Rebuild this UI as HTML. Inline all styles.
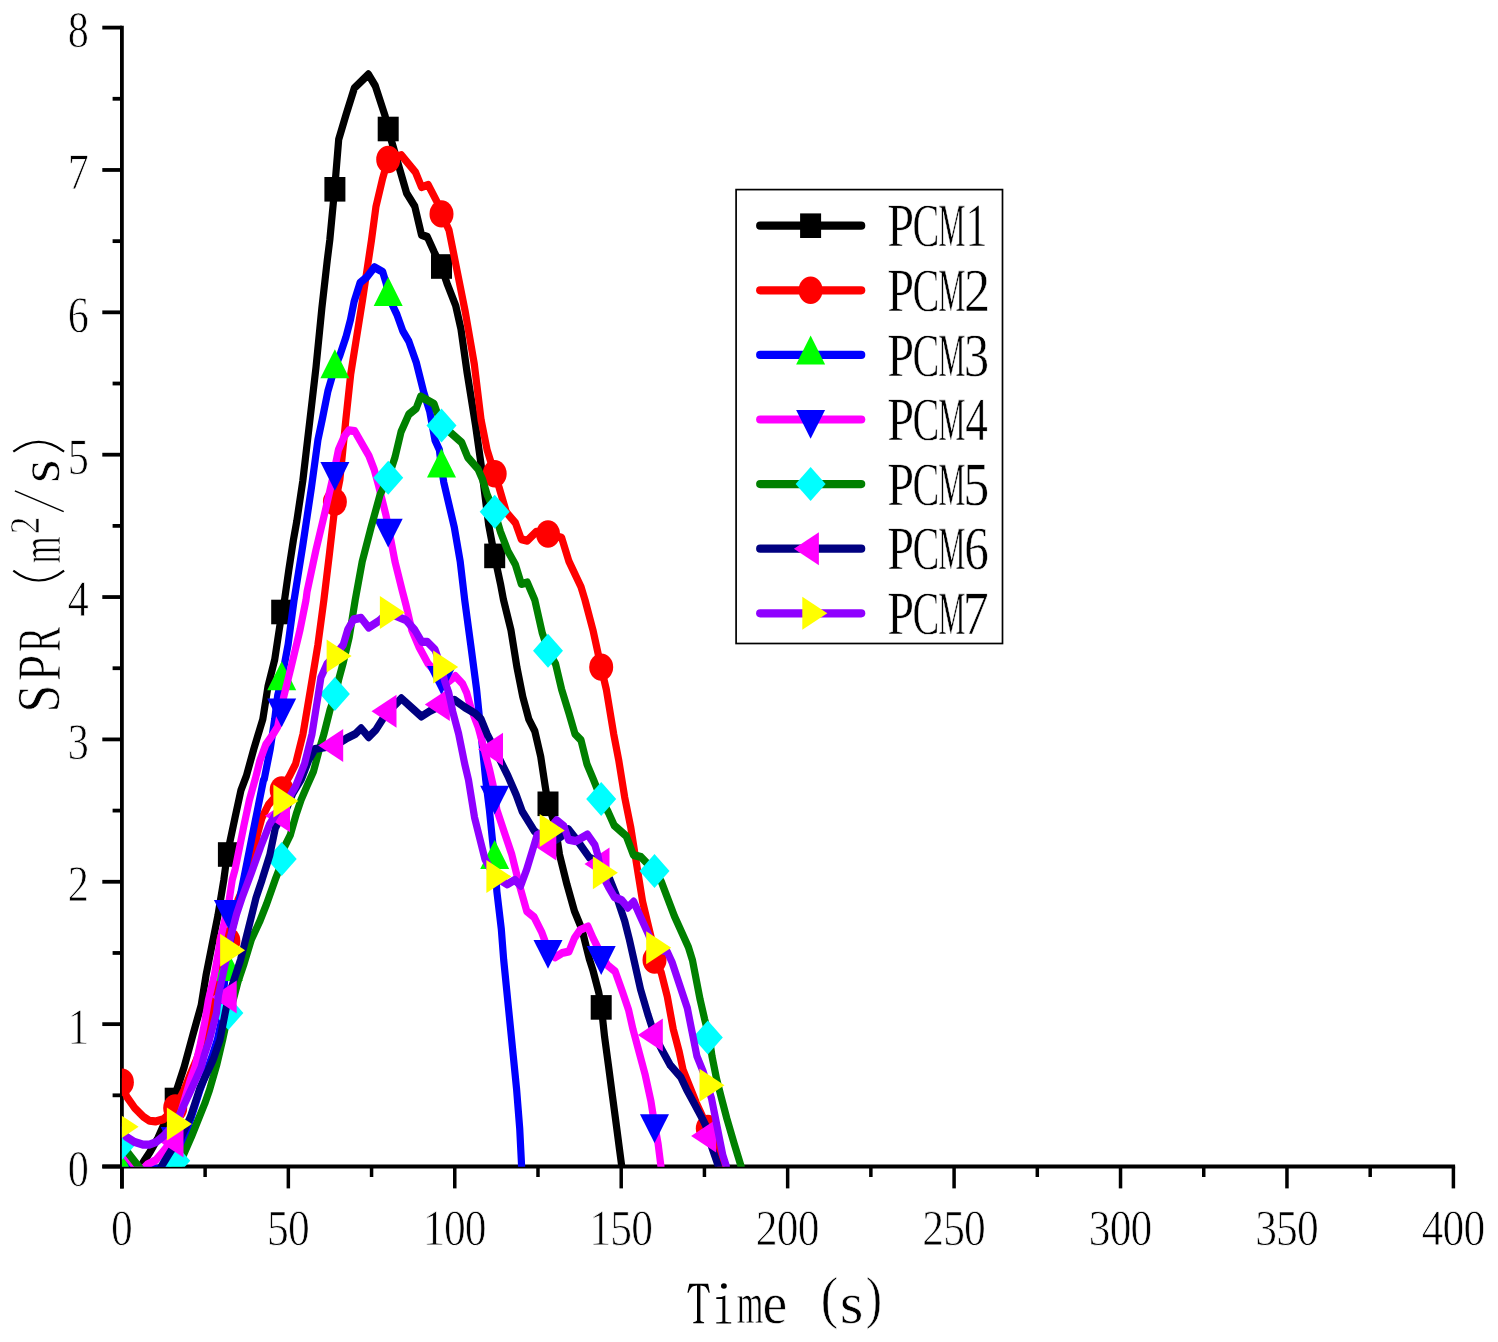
<!DOCTYPE html>
<html><head><meta charset="utf-8"><title>SPR chart</title><style>
html,body{margin:0;padding:0;background:#fff;overflow:hidden;}
svg{display:block;}
text{font-family:"Liberation Serif",serif;fill:#000;text-rendering:geometricPrecision;}
</style></head><body>
<svg width="1498" height="1342" viewBox="0 0 1498 1342">
<rect width="1498" height="1342" fill="#fff"/>
<defs><filter id="nf" x="0" y="0" width="1498" height="1342" filterUnits="userSpaceOnUse"><feOffset dx="0" dy="0"/></filter><clipPath id="pc"><rect x="121.9" y="0" width="1340" height="1166.7"/></clipPath></defs>
<line x1="121.9" y1="25.70" x2="121.9" y2="1188.4" stroke="#000" stroke-width="3.8"/>
<line x1="102.3" y1="1166.5" x2="1455.10" y2="1166.5" stroke="#000" stroke-width="3.8"/>
<line x1="102.3" y1="1166.50" x2="121.9" y2="1166.50" stroke="#000" stroke-width="3.8"/>
<line x1="102.3" y1="1024.14" x2="121.9" y2="1024.14" stroke="#000" stroke-width="3.8"/>
<line x1="102.3" y1="881.77" x2="121.9" y2="881.77" stroke="#000" stroke-width="3.8"/>
<line x1="102.3" y1="739.41" x2="121.9" y2="739.41" stroke="#000" stroke-width="3.8"/>
<line x1="102.3" y1="597.05" x2="121.9" y2="597.05" stroke="#000" stroke-width="3.8"/>
<line x1="102.3" y1="454.69" x2="121.9" y2="454.69" stroke="#000" stroke-width="3.8"/>
<line x1="102.3" y1="312.32" x2="121.9" y2="312.32" stroke="#000" stroke-width="3.8"/>
<line x1="102.3" y1="169.96" x2="121.9" y2="169.96" stroke="#000" stroke-width="3.8"/>
<line x1="102.3" y1="27.60" x2="121.9" y2="27.60" stroke="#000" stroke-width="3.8"/>
<line x1="112.6" y1="1095.32" x2="121.9" y2="1095.32" stroke="#000" stroke-width="3.8"/>
<line x1="112.6" y1="952.96" x2="121.9" y2="952.96" stroke="#000" stroke-width="3.8"/>
<line x1="112.6" y1="810.59" x2="121.9" y2="810.59" stroke="#000" stroke-width="3.8"/>
<line x1="112.6" y1="668.23" x2="121.9" y2="668.23" stroke="#000" stroke-width="3.8"/>
<line x1="112.6" y1="525.87" x2="121.9" y2="525.87" stroke="#000" stroke-width="3.8"/>
<line x1="112.6" y1="383.51" x2="121.9" y2="383.51" stroke="#000" stroke-width="3.8"/>
<line x1="112.6" y1="241.14" x2="121.9" y2="241.14" stroke="#000" stroke-width="3.8"/>
<line x1="112.6" y1="98.78" x2="121.9" y2="98.78" stroke="#000" stroke-width="3.8"/>
<line x1="121.90" y1="1166.5" x2="121.90" y2="1188.4" stroke="#000" stroke-width="3.5"/>
<line x1="288.34" y1="1166.5" x2="288.34" y2="1188.4" stroke="#000" stroke-width="3.5"/>
<line x1="454.77" y1="1166.5" x2="454.77" y2="1188.4" stroke="#000" stroke-width="3.5"/>
<line x1="621.21" y1="1166.5" x2="621.21" y2="1188.4" stroke="#000" stroke-width="3.5"/>
<line x1="787.65" y1="1166.5" x2="787.65" y2="1188.4" stroke="#000" stroke-width="3.5"/>
<line x1="954.09" y1="1166.5" x2="954.09" y2="1188.4" stroke="#000" stroke-width="3.5"/>
<line x1="1120.53" y1="1166.5" x2="1120.53" y2="1188.4" stroke="#000" stroke-width="3.5"/>
<line x1="1286.96" y1="1166.5" x2="1286.96" y2="1188.4" stroke="#000" stroke-width="3.5"/>
<line x1="1453.40" y1="1166.5" x2="1453.40" y2="1188.4" stroke="#000" stroke-width="3.5"/>
<line x1="205.12" y1="1166.5" x2="205.12" y2="1177" stroke="#000" stroke-width="3.5"/>
<line x1="371.56" y1="1166.5" x2="371.56" y2="1177" stroke="#000" stroke-width="3.5"/>
<line x1="537.99" y1="1166.5" x2="537.99" y2="1177" stroke="#000" stroke-width="3.5"/>
<line x1="704.43" y1="1166.5" x2="704.43" y2="1177" stroke="#000" stroke-width="3.5"/>
<line x1="870.87" y1="1166.5" x2="870.87" y2="1177" stroke="#000" stroke-width="3.5"/>
<line x1="1037.31" y1="1166.5" x2="1037.31" y2="1177" stroke="#000" stroke-width="3.5"/>
<line x1="1203.74" y1="1166.5" x2="1203.74" y2="1177" stroke="#000" stroke-width="3.5"/>
<line x1="1370.18" y1="1166.5" x2="1370.18" y2="1177" stroke="#000" stroke-width="3.5"/>
<g clip-path="url(#pc)">
<g transform="scale(1,1.14)"><polyline points="121.9,1028.1 138.0,1027.2 143.4,1019.3 150.0,1010.5 158.0,998.2 165.0,984.2 170.0,973.7 175.0,964.9 177.0,955.3 184.1,936.2 193.0,907.5 201.2,881.7 206.0,855.6 211.9,829.5 217.9,803.3 223.8,771.9 227.2,749.6 235.1,716.9 241.0,693.0 246.4,680.6 253.8,657.0 262.8,630.9 268.0,602.1 274.7,578.6 279.2,552.5 282.0,536.8 284.7,525.3 288.8,500.0 293.4,473.7 296.8,457.1 302.8,421.8 307.5,386.4 312.2,351.1 316.0,322.2 321.9,269.9 327.3,228.1 329.8,210.5 334.6,166.1 338.7,122.3 346.2,100.1 354.4,77.2 368.4,65.2 375.3,75.3 385.0,101.4 388.0,113.2 395.4,135.4 406.6,169.4 414.8,181.1 421.5,206.0 427.4,207.9 434.1,221.0 441.3,233.8 447.5,249.7 455.7,268.1 461.0,288.9 467.0,326.3 475.5,372.8 481.1,407.6 488.6,459.9 494.5,487.6 500.5,512.2 503.5,526.3 510.9,552.5 516.9,585.2 522.8,611.3 528.8,630.9 534.8,641.3 540.7,663.6 545.2,689.7 548.0,705.1 555.0,723.4 559.5,749.6 566.9,775.7 574.4,799.2 581.8,814.9 589.3,841.1 592.8,850.7 598.7,870.4 601.4,883.7 604.6,909.6 608.6,935.7 612.5,961.8 616.3,986.8 619.5,1008.3 621.7,1022.8 622.5,1028.1" fill="none" stroke="#000000" stroke-width="7.2" stroke-linejoin="round" stroke-linecap="round"/></g>
<rect x="164.7" y="1087.7" width="21" height="24.6" fill="#000000"/>
<rect x="217.9" y="842.2" width="21" height="24.6" fill="#000000"/>
<rect x="271.2" y="599.7" width="21" height="24.6" fill="#000000"/>
<rect x="324.4" y="177.0" width="21" height="24.6" fill="#000000"/>
<rect x="377.7" y="116.7" width="21" height="24.6" fill="#000000"/>
<rect x="431.0" y="254.2" width="21" height="24.6" fill="#000000"/>
<rect x="484.2" y="543.6" width="21" height="24.6" fill="#000000"/>
<rect x="537.5" y="791.5" width="21" height="24.6" fill="#000000"/>
<rect x="590.7" y="995.1" width="21" height="24.6" fill="#000000"/>
<g transform="scale(1,1.14)"><polyline points="121.8,949.3 126.7,962.0 134.7,971.9 143.4,979.6 149.4,983.1 155.4,983.7 163.4,981.9 175.0,971.9 184.1,956.1 190.0,942.8 196.3,929.8 201.8,916.7 206.5,900.9 211.4,887.9 216.6,861.8 222.0,843.9 228.4,825.4 233.0,807.0 237.9,789.5 249.5,766.6 253.1,750.9 257.6,731.3 262.0,717.2 268.3,706.1 281.3,693.0 289.6,680.6 295.6,670.1 303.0,643.9 310.5,604.7 317.9,565.5 323.9,526.3 329.4,486.1 335.4,440.4 339.9,420.7 345.8,368.4 350.7,328.2 362.6,262.8 371.5,210.5 376.0,181.1 382.7,156.3 388.0,139.9 401.3,136.1 415.5,151.1 421.5,164.1 428.2,162.2 437.1,177.2 441.6,187.6 449.0,201.8 456.4,234.5 465.3,273.7 474.3,319.4 481.1,368.4 487.1,394.6 494.5,415.5 499.0,427.3 506.4,449.5 515.4,458.6 521.3,473.0 527.3,474.3 536.2,466.5 547.9,468.4 561.6,471.7 569.0,492.6 581.0,514.8 585.0,526.3 592.9,552.5 601.1,585.2 606.3,604.7 613.7,643.9 618.7,666.7 624.7,699.4 630.7,725.5 636.6,758.2 642.6,790.9 651.5,823.5 654.3,842.1 661.3,853.3 667.3,874.2 673.3,903.0 679.2,922.6 683.1,938.6 689.9,953.5 696.7,968.4 708.0,989.8 717.1,1008.3 719.4,1018.2 721.0,1022.8" fill="none" stroke="#FF0000" stroke-width="7.2" stroke-linejoin="round" stroke-linecap="round"/></g>
<ellipse cx="121.9" cy="1082.2" rx="12" ry="13.7" fill="#FF0000"/>
<ellipse cx="175.2" cy="1108.0" rx="12" ry="13.7" fill="#FF0000"/>
<ellipse cx="228.4" cy="941.0" rx="12" ry="13.7" fill="#FF0000"/>
<ellipse cx="281.7" cy="790.0" rx="12" ry="13.7" fill="#FF0000"/>
<ellipse cx="334.9" cy="502.0" rx="12" ry="13.7" fill="#FF0000"/>
<ellipse cx="388.2" cy="159.5" rx="12" ry="13.7" fill="#FF0000"/>
<ellipse cx="441.5" cy="213.9" rx="12" ry="13.7" fill="#FF0000"/>
<ellipse cx="494.7" cy="473.7" rx="12" ry="13.7" fill="#FF0000"/>
<ellipse cx="548.0" cy="534.0" rx="12" ry="13.7" fill="#FF0000"/>
<ellipse cx="601.2" cy="667.1" rx="12" ry="13.7" fill="#FF0000"/>
<ellipse cx="654.5" cy="960.0" rx="12" ry="13.7" fill="#FF0000"/>
<ellipse cx="707.8" cy="1128.4" rx="12" ry="13.7" fill="#FF0000"/>
<g transform="scale(1,1.14)"><polyline points="121.9,1017.5 128.0,1025.4 165.0,1025.4 172.0,1017.5 178.0,1010.5 184.8,997.1 191.4,979.6 200.0,956.1 212.5,925.4 217.4,912.0 221.0,897.4 224.7,859.6 227.7,841.1 232.2,814.9 239.6,788.8 245.6,762.6 254.5,723.4 263.5,684.2 264.3,683.2 270.2,657.0 274.7,630.9 277.7,610.0 281.4,596.9 288.1,565.5 294.1,526.3 302.6,479.6 311.5,427.3 317.9,386.0 322.4,367.4 327.9,343.1 334.4,323.4 339.8,311.8 345.8,296.1 350.5,280.4 354.1,264.6 360.1,248.0 367.2,242.7 374.4,234.4 382.7,238.5 386.3,248.9 388.2,259.8 396.9,275.9 402.8,290.3 408.8,299.4 416.2,317.7 423.7,343.9 429.7,360.9 435.0,386.0 439.4,394.6 441.5,410.3 443.8,423.3 454.3,462.5 460.2,492.6 464.7,526.3 470.7,565.5 476.6,604.7 479.6,630.9 482.6,657.0 485.6,683.2 489.4,710.4 492.4,736.5 494.6,753.8 496.9,782.3 501.3,814.9 503.7,842.1 508.5,884.3 513.3,926.5 516.5,954.6 519.7,989.7 521.6,1022.8" fill="none" stroke="#0000FF" stroke-width="7.2" stroke-linejoin="round" stroke-linecap="round"/></g>
<polygon points="121.9,1152.7 107.4,1181.7 136.4,1181.7" fill="#00FF00"/>
<polygon points="175.2,1152.7 160.7,1181.7 189.7,1181.7" fill="#00FF00"/>
<polygon points="228.4,951.9 213.9,980.9 242.9,980.9" fill="#00FF00"/>
<polygon points="281.7,661.2 267.2,690.2 296.2,690.2" fill="#00FF00"/>
<polygon points="334.9,349.3 320.4,378.3 349.4,378.3" fill="#00FF00"/>
<polygon points="388.2,276.9 373.7,305.9 402.7,305.9" fill="#00FF00"/>
<polygon points="441.5,448.4 427.0,477.4 456.0,477.4" fill="#00FF00"/>
<polygon points="494.7,840.0 480.2,869.0 509.2,869.0" fill="#00FF00"/>
<g transform="scale(1,1.14)"><polyline points="121.9,1008.8 137.0,1025.4 143.0,1025.4 147.3,1021.5 156.0,1017.5 161.0,1012.3 166.0,1007.0 170.7,998.9 179.6,979.4 190.6,946.5 195.0,936.0 200.2,916.4 204.7,896.8 208.4,877.2 214.3,855.6 218.5,834.2 220.3,824.2 228.6,792.8 232.2,771.9 235.1,762.6 244.1,723.4 249.4,701.8 255.3,683.2 259.8,667.5 265.8,653.2 273.2,643.9 277.7,637.5 283.7,611.3 291.1,585.2 300.0,552.5 306.0,526.3 307.1,518.8 316.0,482.2 324.9,449.5 332.4,420.7 338.4,394.6 344.3,382.8 348.8,377.5 354.8,378.2 363.7,391.9 368.9,399.8 374.1,411.6 378.6,426.0 386.0,452.1 389.0,465.2 395.0,492.6 402.4,518.8 406.0,530.7 411.8,552.6 418.9,567.3 427.9,581.9 440.7,594.7 448.7,597.6 455.3,593.0 462.5,599.7 466.6,607.5 470.7,620.4 478.1,637.5 484.1,657.0 490.0,676.7 493.0,688.4 496.9,710.4 504.3,730.0 511.8,749.6 519.2,775.7 526.7,799.2 534.1,804.5 541.6,817.5 548.1,833.0 555.0,839.7 562.0,836.0 569.0,834.6 574.5,822.8 580.0,815.8 588.0,812.7 593.0,822.8 598.0,831.6 601.2,838.3 607.7,846.8 615.1,852.0 622.6,870.4 628.6,886.0 633.0,903.0 639.0,922.6 645.0,942.2 650.9,965.8 654.5,985.9 658.1,1003.3 660.9,1022.8" fill="none" stroke="#FF00FF" stroke-width="7.2" stroke-linejoin="round" stroke-linecap="round"/></g>
<polygon points="160.7,1127.0 189.7,1127.0 175.2,1155.8" fill="#0000FF"/>
<polygon points="213.9,900.0 242.9,900.0 228.4,928.8" fill="#0000FF"/>
<polygon points="267.2,698.4 296.2,698.4 281.7,727.2" fill="#0000FF"/>
<polygon points="320.4,461.9 349.4,461.9 334.9,490.7" fill="#0000FF"/>
<polygon points="373.7,518.7 402.7,518.7 388.2,547.5" fill="#0000FF"/>
<polygon points="427.0,666.1 456.0,666.1 441.5,694.9" fill="#0000FF"/>
<polygon points="480.2,785.7 509.2,785.7 494.7,814.5" fill="#0000FF"/>
<polygon points="533.5,940.0 562.5,940.0 548.0,968.8" fill="#0000FF"/>
<polygon points="586.7,946.1 615.7,946.1 601.2,974.9" fill="#0000FF"/>
<polygon points="640.0,1114.3 669.0,1114.3 654.5,1143.1" fill="#0000FF"/>
<g transform="scale(1,1.14)"><polyline points="121.9,1004.4 143.0,1028.1 170.0,1028.1 178.3,1023.4 184.1,1011.8 191.4,997.1 198.1,982.5 204.8,967.9 209.5,956.1 216.9,933.6 222.6,912.3 226.2,897.4 233.4,876.5 238.1,860.8 244.1,845.1 251.3,824.2 259.6,808.5 266.7,792.8 275.1,771.9 283.1,753.6 284.3,743.1 290.3,732.5 296.2,714.3 301.0,701.8 307.0,689.5 313.5,676.7 319.4,657.0 323.9,643.9 329.9,623.1 335.5,608.7 338.8,595.6 343.3,581.2 349.2,559.0 355.2,526.3 362.2,492.6 371.1,462.5 380.1,433.8 388.3,419.1 395.0,401.1 401.0,378.9 408.8,363.5 416.2,358.2 420.7,347.8 434.1,354.3 441.6,373.2 449.8,378.9 461.7,388.1 467.7,401.1 478.1,411.6 482.6,420.7 487.1,433.8 494.5,448.9 500.5,466.5 507.9,483.4 515.4,495.3 521.3,512.2 527.3,510.9 534.8,526.3 542.2,555.1 548.2,570.8 555.6,582.5 561.6,604.7 569.0,625.7 575.0,643.9 581.0,649.2 586.9,670.1 593.4,683.7 601.2,700.9 608.3,712.5 614.3,724.2 626.2,733.3 633.4,750.0 641.0,751.8 654.5,764.0 661.3,773.3 674.5,803.9 688.4,830.9 692.5,842.4 700.1,876.8 704.6,893.9 709.3,910.2 712.0,926.5 716.5,946.1 721.0,961.8 726.9,981.4 734.2,1003.3 741.0,1022.8" fill="none" stroke="#008000" stroke-width="7.2" stroke-linejoin="round" stroke-linecap="round"/></g>
<polygon points="121.9,1126.0 136.9,1143.0 121.9,1160.0 106.9,1143.0" fill="#00FFFF"/>
<polygon points="175.2,1143.8 190.2,1160.8 175.2,1177.8 160.2,1160.8" fill="#00FFFF"/>
<polygon points="228.4,995.9 243.4,1012.9 228.4,1029.9 213.4,1012.9" fill="#00FFFF"/>
<polygon points="281.7,842.1 296.7,859.1 281.7,876.1 266.7,859.1" fill="#00FFFF"/>
<polygon points="334.9,676.9 349.9,693.9 334.9,710.9 319.9,693.9" fill="#00FFFF"/>
<polygon points="388.2,460.8 403.2,477.8 388.2,494.8 373.2,477.8" fill="#00FFFF"/>
<polygon points="441.5,408.5 456.5,425.5 441.5,442.5 426.5,425.5" fill="#00FFFF"/>
<polygon points="494.7,494.7 509.7,511.7 494.7,528.7 479.7,511.7" fill="#00FFFF"/>
<polygon points="548.0,633.7 563.0,650.7 548.0,667.7 533.0,650.7" fill="#00FFFF"/>
<polygon points="601.2,782.0 616.2,799.0 601.2,816.0 586.2,799.0" fill="#00FFFF"/>
<polygon points="654.5,854.0 669.5,871.0 654.5,888.0 639.5,871.0" fill="#00FFFF"/>
<polygon points="707.8,1020.6 722.8,1037.6 707.8,1054.6 692.8,1037.6" fill="#00FFFF"/>
<g transform="scale(1,1.14)"><polyline points="121.9,1028.9 158.0,1028.9 161.4,1023.2 171.4,1008.9 176.3,1003.5 180.0,1000.0 190.5,979.5 200.0,954.4 213.0,929.8 220.0,912.0 225.2,888.5 228.4,874.6 230.7,868.4 240.5,842.1 244.5,828.1 252.0,801.8 256.0,787.6 262.0,771.9 269.8,750.0 275.4,726.1 281.8,715.5 287.3,707.7 292.6,696.2 301.5,683.2 309.0,666.2 314.9,657.0 335.1,653.9 346.2,647.9 355.2,643.9 361.1,638.8 368.6,646.6 376.0,640.1 383.5,629.6 388.7,623.9 401.4,612.6 412.0,621.1 421.4,628.5 430.0,623.7 442.1,618.5 454.3,613.9 464.7,620.4 475.1,625.7 481.1,630.9 487.1,643.9 494.8,657.2 500.5,667.5 507.9,680.6 516.2,697.3 522.2,711.7 534.1,728.7 548.5,740.4 561.0,733.9 568.4,727.4 578.8,739.1 589.3,752.2 601.5,757.9 609.8,771.2 615.8,784.3 620.2,796.1 624.7,807.9 629.2,823.5 634.5,844.2 640.5,867.7 647.9,889.9 654.5,907.8 661.3,920.0 670.3,934.4 680.7,944.8 686.5,955.5 694.4,968.4 702.4,981.4 705.8,987.4 708.0,996.6 712.6,1008.3 718.3,1022.8" fill="none" stroke="#000080" stroke-width="7.2" stroke-linejoin="round" stroke-linecap="round"/></g>
<polygon points="158.5,1141.1 183.5,1124.6 183.5,1157.6" fill="#FF00FF"/>
<polygon points="211.7,997.0 236.7,980.5 236.7,1013.5" fill="#FF00FF"/>
<polygon points="265.0,815.7 290.0,799.2 290.0,832.2" fill="#FF00FF"/>
<polygon points="318.2,745.5 343.2,729.0 343.2,762.0" fill="#FF00FF"/>
<polygon points="371.5,711.3 396.5,694.8 396.5,727.8" fill="#FF00FF"/>
<polygon points="424.8,704.5 449.8,688.0 449.8,721.0" fill="#FF00FF"/>
<polygon points="478.0,749.2 503.0,732.7 503.0,765.7" fill="#FF00FF"/>
<polygon points="531.3,844.0 556.3,827.5 556.3,860.5" fill="#FF00FF"/>
<polygon points="584.5,864.0 609.5,847.5 609.5,880.5" fill="#FF00FF"/>
<polygon points="637.8,1034.9 662.8,1018.4 662.8,1051.4" fill="#FF00FF"/>
<polygon points="691.1,1136.1 716.1,1119.6 716.1,1152.6" fill="#FF00FF"/>
<g transform="scale(1,1.14)"><polyline points="121.8,988.4 126.0,997.1 134.7,1001.8 143.4,1004.1 149.4,1004.1 156.0,1001.8 163.4,996.6 175.1,986.0 180.8,975.4 184.8,967.9 190.5,957.0 195.5,947.4 201.2,936.0 204.4,925.4 209.5,912.0 216.5,888.5 218.5,872.8 221.7,859.6 224.7,847.6 228.2,833.5 230.7,821.5 236.6,801.8 242.6,786.1 251.5,765.3 260.5,743.1 269.4,723.4 281.3,706.1 289.6,698.9 295.6,689.7 304.5,670.1 312.0,643.9 317.9,611.3 320.9,594.3 326.9,582.5 334.6,575.4 343.3,565.5 347.7,552.5 353.7,543.3 361.1,542.0 368.6,550.5 379.0,544.6 388.0,537.3 396.9,540.7 405.9,543.9 414.8,552.6 421.9,563.1 427.3,563.1 435.0,569.9 441.3,585.1 444.6,597.1 448.7,607.5 452.8,624.4 458.7,643.9 464.7,670.1 468.5,684.2 474.5,716.9 484.9,753.5 494.6,768.9 507.3,775.7 514.8,771.8 520.7,777.0 526.7,762.6 532.6,745.6 537.1,732.5 548.1,728.4 556.5,719.5 563.9,724.7 568.4,736.5 575.9,737.8 587.5,732.0 594.9,741.2 597.9,750.4 601.1,765.6 608.3,777.8 614.3,786.9 621.7,789.6 627.7,796.1 633.7,790.9 639.6,802.6 647.1,817.0 654.3,831.4 667.3,835.0 672.0,843.9 679.3,863.2 687.3,884.2 692.1,905.3 696.9,926.4 703.3,940.4 707.5,952.0 711.5,963.5 714.9,978.4 719.4,998.3 722.8,1013.2 726.2,1022.8" fill="none" stroke="#8F00FF" stroke-width="7.2" stroke-linejoin="round" stroke-linecap="round"/></g>
<polygon points="138.6,1126.8 113.6,1110.3 113.6,1143.3" fill="#FFFF00"/>
<polygon points="191.9,1124.0 166.9,1107.5 166.9,1140.5" fill="#FFFF00"/>
<polygon points="245.1,950.2 220.1,933.7 220.1,966.7" fill="#FFFF00"/>
<polygon points="298.4,800.9 273.4,784.4 273.4,817.4" fill="#FFFF00"/>
<polygon points="351.6,655.9 326.6,639.4 326.6,672.4" fill="#FFFF00"/>
<polygon points="404.9,612.5 379.9,596.0 379.9,629.0" fill="#FFFF00"/>
<polygon points="458.2,667.0 433.2,650.5 433.2,683.5" fill="#FFFF00"/>
<polygon points="511.4,876.6 486.4,860.1 486.4,893.1" fill="#FFFF00"/>
<polygon points="564.7,830.4 539.7,813.9 539.7,846.9" fill="#FFFF00"/>
<polygon points="617.9,872.8 592.9,856.3 592.9,889.3" fill="#FFFF00"/>
<polygon points="671.2,947.8 646.2,931.3 646.2,964.3" fill="#FFFF00"/>
<polygon points="724.5,1085.3 699.5,1068.8 699.5,1101.8" fill="#FFFF00"/>
</g>
<g filter="url(#nf)">
<text transform="translate(111.04,1245.34) scale(0.4345,0.5054)" font-size="100" stroke="#fff" stroke-width="1.490">0</text>
<text transform="translate(266.99,1245.34) scale(0.4354,0.5055)" font-size="100" stroke="#fff" stroke-width="1.488">5</text>
<text transform="translate(287.92,1245.34) scale(0.4345,0.5054)" font-size="100" stroke="#fff" stroke-width="1.490">0</text>
<text transform="translate(422.90,1245.35) scale(0.4379,0.5056)" font-size="100" stroke="#fff" stroke-width="1.484">1</text>
<text transform="translate(443.91,1245.34) scale(0.4345,0.5054)" font-size="100" stroke="#fff" stroke-width="1.490">0</text>
<text transform="translate(464.81,1245.34) scale(0.4345,0.5054)" font-size="100" stroke="#fff" stroke-width="1.490">0</text>
<text transform="translate(589.34,1245.35) scale(0.4379,0.5056)" font-size="100" stroke="#fff" stroke-width="1.484">1</text>
<text transform="translate(610.31,1245.34) scale(0.4354,0.5055)" font-size="100" stroke="#fff" stroke-width="1.488">5</text>
<text transform="translate(631.25,1245.34) scale(0.4345,0.5054)" font-size="100" stroke="#fff" stroke-width="1.490">0</text>
<text transform="translate(755.87,1245.35) scale(0.4355,0.5056)" font-size="100" stroke="#fff" stroke-width="1.488">2</text>
<text transform="translate(776.79,1245.34) scale(0.4345,0.5054)" font-size="100" stroke="#fff" stroke-width="1.490">0</text>
<text transform="translate(797.69,1245.34) scale(0.4345,0.5054)" font-size="100" stroke="#fff" stroke-width="1.490">0</text>
<text transform="translate(922.31,1245.35) scale(0.4355,0.5056)" font-size="100" stroke="#fff" stroke-width="1.488">2</text>
<text transform="translate(943.19,1245.34) scale(0.4354,0.5055)" font-size="100" stroke="#fff" stroke-width="1.488">5</text>
<text transform="translate(964.12,1245.34) scale(0.4345,0.5054)" font-size="100" stroke="#fff" stroke-width="1.490">0</text>
<text transform="translate(1088.74,1245.34) scale(0.4349,0.5054)" font-size="100" stroke="#fff" stroke-width="1.489">3</text>
<text transform="translate(1109.66,1245.34) scale(0.4345,0.5054)" font-size="100" stroke="#fff" stroke-width="1.490">0</text>
<text transform="translate(1130.56,1245.34) scale(0.4345,0.5054)" font-size="100" stroke="#fff" stroke-width="1.490">0</text>
<text transform="translate(1255.18,1245.34) scale(0.4349,0.5054)" font-size="100" stroke="#fff" stroke-width="1.489">3</text>
<text transform="translate(1276.06,1245.34) scale(0.4354,0.5055)" font-size="100" stroke="#fff" stroke-width="1.488">5</text>
<text transform="translate(1297.00,1245.34) scale(0.4345,0.5054)" font-size="100" stroke="#fff" stroke-width="1.490">0</text>
<text transform="translate(1421.67,1245.35) scale(0.4331,0.5056)" font-size="100" stroke="#fff" stroke-width="1.491">4</text>
<text transform="translate(1442.54,1245.34) scale(0.4345,0.5054)" font-size="100" stroke="#fff" stroke-width="1.490">0</text>
<text transform="translate(1463.44,1245.34) scale(0.4345,0.5054)" font-size="100" stroke="#fff" stroke-width="1.490">0</text>
<text transform="translate(67.78,1185.88) scale(0.4215,0.5124)" font-size="100" stroke="#fff" stroke-width="1.499">0</text>
<text transform="translate(67.66,1043.53) scale(0.4249,0.5126)" font-size="100" stroke="#fff" stroke-width="1.493">1</text>
<text transform="translate(67.76,901.17) scale(0.4225,0.5126)" font-size="100" stroke="#fff" stroke-width="1.497">2</text>
<text transform="translate(67.76,758.79) scale(0.4219,0.5124)" font-size="100" stroke="#fff" stroke-width="1.498">3</text>
<text transform="translate(67.81,616.44) scale(0.4201,0.5126)" font-size="100" stroke="#fff" stroke-width="1.501">4</text>
<text transform="translate(67.74,474.07) scale(0.4224,0.5125)" font-size="100" stroke="#fff" stroke-width="1.497">5</text>
<text transform="translate(67.77,331.71) scale(0.4214,0.5124)" font-size="100" stroke="#fff" stroke-width="1.499">6</text>
<text transform="translate(67.72,189.35) scale(0.4223,0.5127)" font-size="100" stroke="#fff" stroke-width="1.497">7</text>
<text transform="translate(67.78,46.98) scale(0.4215,0.5124)" font-size="100" stroke="#fff" stroke-width="1.499">8</text>
<rect x="736.1" y="189.6" width="266.4" height="453.9" fill="#fff" stroke="#000" stroke-width="1.7"/>
<line x1="760.2" y1="225.7" x2="861.2" y2="225.7" stroke="#000000" stroke-width="8.21" stroke-linecap="round"/>
<rect x="800.1" y="213.4" width="21" height="24.6" fill="#000000"/>
<text transform="translate(887.35,246.35) scale(0.4825,0.6137)" font-size="100" stroke="#fff" stroke-width="0.912">P</text>
<text transform="translate(912.60,246.34) scale(0.4028,0.6135)" font-size="100" stroke="#fff" stroke-width="0.984">C</text>
<text transform="translate(938.17,246.35) scale(0.3045,0.6137)" font-size="100" stroke="#fff" stroke-width="1.089">M</text>
<text transform="translate(965.48,246.35) scale(0.4403,0.6137)" font-size="100" stroke="#fff" stroke-width="0.949">1</text>
<line x1="760.2" y1="290.3" x2="861.2" y2="290.3" stroke="#FF0000" stroke-width="8.21" stroke-linecap="round"/>
<ellipse cx="810.6" cy="290.3" rx="12" ry="13.7" fill="#FF0000"/>
<text transform="translate(887.35,310.95) scale(0.4825,0.6137)" font-size="100" stroke="#fff" stroke-width="0.912">P</text>
<text transform="translate(912.60,310.94) scale(0.4028,0.6135)" font-size="100" stroke="#fff" stroke-width="0.984">C</text>
<text transform="translate(938.17,310.95) scale(0.3045,0.6137)" font-size="100" stroke="#fff" stroke-width="1.089">M</text>
<text transform="translate(963.95,310.95) scale(0.5237,0.6137)" font-size="100" stroke="#fff" stroke-width="0.879">2</text>
<line x1="760.2" y1="354.9" x2="861.2" y2="354.9" stroke="#0000FF" stroke-width="8.21" stroke-linecap="round"/>
<polygon points="810.6,335.6 796.1,364.6 825.1,364.6" fill="#00FF00"/>
<text transform="translate(887.35,375.55) scale(0.4825,0.6137)" font-size="100" stroke="#fff" stroke-width="0.912">P</text>
<text transform="translate(912.60,375.54) scale(0.4028,0.6135)" font-size="100" stroke="#fff" stroke-width="0.984">C</text>
<text transform="translate(938.17,375.55) scale(0.3045,0.6137)" font-size="100" stroke="#fff" stroke-width="1.089">M</text>
<text transform="translate(963.81,375.54) scale(0.5085,0.6135)" font-size="100" stroke="#fff" stroke-width="0.891">3</text>
<line x1="760.2" y1="419.5" x2="861.2" y2="419.5" stroke="#FF00FF" stroke-width="8.21" stroke-linecap="round"/>
<polygon points="796.1,409.9 825.1,409.9 810.6,438.7" fill="#0000FF"/>
<text transform="translate(887.35,440.15) scale(0.4825,0.6137)" font-size="100" stroke="#fff" stroke-width="0.912">P</text>
<text transform="translate(912.60,440.14) scale(0.4028,0.6135)" font-size="100" stroke="#fff" stroke-width="0.984">C</text>
<text transform="translate(938.17,440.15) scale(0.3045,0.6137)" font-size="100" stroke="#fff" stroke-width="1.089">M</text>
<text transform="translate(965.34,440.15) scale(0.4526,0.6137)" font-size="100" stroke="#fff" stroke-width="0.938">4</text>
<line x1="760.2" y1="484.1" x2="861.2" y2="484.1" stroke="#008000" stroke-width="8.21" stroke-linecap="round"/>
<polygon points="810.6,467.1 825.6,484.1 810.6,501.1 795.6,484.1" fill="#00FFFF"/>
<text transform="translate(887.35,504.75) scale(0.4825,0.6137)" font-size="100" stroke="#fff" stroke-width="0.912">P</text>
<text transform="translate(912.60,504.74) scale(0.4028,0.6135)" font-size="100" stroke="#fff" stroke-width="0.984">C</text>
<text transform="translate(938.17,504.75) scale(0.3045,0.6137)" font-size="100" stroke="#fff" stroke-width="1.089">M</text>
<text transform="translate(963.23,504.74) scale(0.5211,0.6136)" font-size="100" stroke="#fff" stroke-width="0.881">5</text>
<line x1="760.2" y1="548.7" x2="861.2" y2="548.7" stroke="#000080" stroke-width="8.21" stroke-linecap="round"/>
<polygon points="793.9,548.7 818.9,532.2 818.9,565.2" fill="#FF00FF"/>
<text transform="translate(887.35,569.35) scale(0.4825,0.6137)" font-size="100" stroke="#fff" stroke-width="0.912">P</text>
<text transform="translate(912.60,569.34) scale(0.4028,0.6135)" font-size="100" stroke="#fff" stroke-width="0.984">C</text>
<text transform="translate(938.17,569.35) scale(0.3045,0.6137)" font-size="100" stroke="#fff" stroke-width="1.089">M</text>
<text transform="translate(964.14,569.34) scale(0.4918,0.6135)" font-size="100" stroke="#fff" stroke-width="0.905">6</text>
<line x1="760.2" y1="613.3" x2="861.2" y2="613.3" stroke="#8F00FF" stroke-width="8.21" stroke-linecap="round"/>
<polygon points="827.3,613.3 802.3,596.8 802.3,629.8" fill="#FFFF00"/>
<text transform="translate(887.35,633.95) scale(0.4825,0.6137)" font-size="100" stroke="#fff" stroke-width="0.912">P</text>
<text transform="translate(912.60,633.94) scale(0.4028,0.6135)" font-size="100" stroke="#fff" stroke-width="0.984">C</text>
<text transform="translate(938.17,633.95) scale(0.3045,0.6137)" font-size="100" stroke="#fff" stroke-width="1.089">M</text>
<text transform="translate(962.83,633.95) scale(0.5185,0.6137)" font-size="100" stroke="#fff" stroke-width="0.883">7</text>
<text transform="translate(736.68,1323.30) scale(0.3428,0.5860)" font-size="100" stroke="#fff" stroke-width="1.292">m</text>
<text transform="translate(762.53,1323.22) scale(0.5568,0.5842)" font-size="100" stroke="#fff" stroke-width="1.052">e</text>
<text transform="translate(820.81,1316.82) scale(0.5214,0.5810)" font-size="100" stroke="#fff" stroke-width="1.088">(</text>
<text transform="translate(839.80,1323.22) scale(0.6090,0.5842)" font-size="100" stroke="#fff" stroke-width="1.006">s</text>
<text transform="translate(865.63,1316.82) scale(0.4903,0.5810)" font-size="100" stroke="#fff" stroke-width="1.120">)</text>
<path d="M689.3,1283.7 L708.1,1283.7 L709.8,1292.8 L708.7,1292.8 Q706.8,1287.2 704.2,1286.2 L700.4,1285.6 L700.4,1320.6 Q700.9,1322 704.1,1322.2 L704.1,1323.2 L693.2,1323.2 L693.2,1322.2 Q696.5,1322 697,1320.6 L697,1285.6 L693.2,1286.2 Q690.6,1287.2 688.5,1292.8 L687.4,1292.8 Z" fill="#000"/>
<ellipse cx="723.9" cy="1286" rx="2.9" ry="2.8" fill="#000"/>
<path d="M716.3,1297.3 L721.5,1297.1 L725.3,1295.6 L725.3,1321.4 Q725.8,1322.1 731.2,1322.2 L731.2,1323.4 L716.3,1323.4 L716.3,1322.2 Q721.8,1322.1 722.4,1321.4 L722.4,1299.1 L716.3,1299.1 Z" fill="#000"/>
<path d="M13.3,570.6 Q38.7,590.4 64.1,570.6" fill="none" stroke="#000" stroke-width="2.1"/>
<path d="M13.3,451.6 Q38.7,432 64.1,451.6" fill="none" stroke="#000" stroke-width="2.1"/>
<line x1="14.9" y1="490.9" x2="63.7" y2="511.6" stroke="#000" stroke-width="1.5"/>
<text transform="rotate(-90) translate(-712.49,59.34) scale(0.4988,0.6101)" font-size="100" stroke="#fff" stroke-width="1.262">S</text>
<text transform="rotate(-90) translate(-681.33,59.75) scale(0.4743,0.6229)" font-size="100" stroke="#fff" stroke-width="1.276">P</text>
<text transform="rotate(-90) translate(-652.04,59.75) scale(0.3752,0.6229)" font-size="100" stroke="#fff" stroke-width="1.403">R</text>
<text transform="rotate(-90) translate(-563.48,59.75) scale(0.3482,0.5817)" font-size="100" stroke="#fff" stroke-width="1.506">m</text>
<text transform="rotate(-90) translate(-533.88,38.75) scale(0.3466,0.4245)" font-size="100" stroke="#fff" stroke-width="1.816">2</text>
<text transform="rotate(-90) translate(-482.92,59.38) scale(0.6026,0.5738)" font-size="100" stroke="#fff" stroke-width="1.190">s</text>
</g>
</svg></body></html>
